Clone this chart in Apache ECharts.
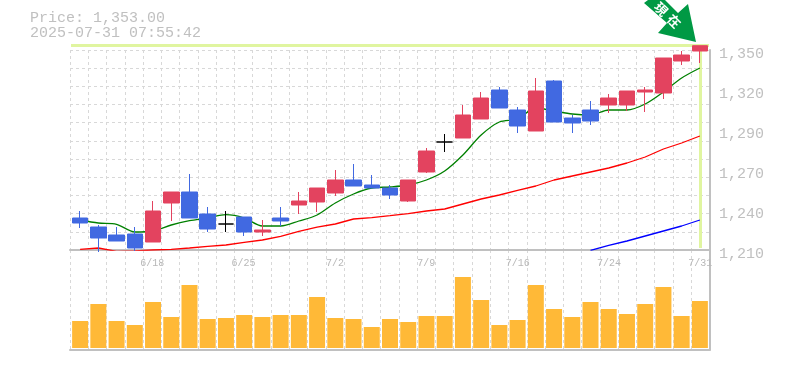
<!DOCTYPE html>
<html>
<head>
<meta charset="utf-8">
<style>
html, body { margin: 0; padding: 0; background: #fff; }
#chart { width: 785px; height: 370px; }
</style>
<script src="https://cdn.jsdelivr.net/npm/echarts@6/dist/echarts.min.js"></script>
</head>
<body>
<div id="chart"></div>
<script>
var dates = ['6/12','6/13','6/16','6/17','6/18','6/19','6/20','6/23','6/24','6/25','6/26','6/27','6/30','7/1','7/2','7/3','7/4','7/7','7/8','7/9','7/10','7/11','7/14','7/15','7/16','7/17','7/18','7/22','7/23','7/24','7/25','7/28','7/29','7/30','7/31'];

// open, close, low, high
var candles = [
    [1232.4,1228.9,1225.4,1237.3],[1226.1,1218.4,1208.6,1227.5],[1220.5,1216.3,1216.3,1226.1],[1221.2,1211.4,1209.3,1226.1],
    [1215.6,1237.3,1215.6,1244.3],[1242.9,1250.6,1230.3,1250.6],[1250.6,1232.4,1232.4,1263.2],[1235.2,1224.7,1222.6,1240.1],
    [1228.2,1228.2,1222.6,1237.3],[1233.1,1222.6,1219.8,1233.1],[1222.6,1224,1219.8,1231],[1232.4,1230.3,1226.8,1240.1],
    [1241.5,1244.3,1235.2,1250.6],[1243.6,1253.4,1236.6,1253.4],[1249.9,1259,1247.8,1266],[1259,1254.8,1254.8,1270.2],
    [1255.5,1253.4,1253.4,1262.5],[1253.4,1248.5,1245.7,1255.5],[1244.3,1259,1243.6,1259],[1264.6,1279.3,1263.9,1281.4],
    [1285.6,1285.6,1278.6,1291.2],[1288.4,1304.5,1288.4,1311.5],[1301.7,1316.4,1301.7,1320.6],[1322,1309.4,1309.4,1324.1],
    [1308,1296.8,1291.9,1310.1],[1293.3,1321.3,1293.3,1330.4],[1328.3,1299.6,1299.6,1329],[1302.4,1298.9,1291.9,1304.5],
    [1308,1300.3,1297.5,1314.3],[1311.5,1316.4,1305.9,1319.2],[1311.5,1321.3,1307.3,1321.3],[1320.6,1322,1306.6,1324.1],
    [1319.9,1344.4,1315.7,1344.4],[1342.3,1346.5,1339.5,1349.3],[1349.3,1353,1340.9,1353]
];

var maShort = [1231,1228.9,1228,1222.6,1223.3,1227.5,1230.5,1232.4,1234.7,1232.4,1226.8,1226.8,1230.3,1234.5,1242.9,1249.2,1253.4,1254.1,1255.5,1259,1265.3,1276.5,1290.5,1299.6,1301.7,1309.4,1307.3,1305.2,1304.5,1308,1308,1312.2,1320.6,1330.4,1337.4];
var maMid = [1210.5,1211.4,1209,1209.3,1210,1210.5,1211.4,1212.5,1213.5,1215.3,1217,1219.5,1223,1226,1228.2,1231.7,1232.7,1234,1235.5,1237.3,1238.7,1242.2,1245.7,1248.5,1251.7,1254.8,1259,1261.8,1264.6,1267.4,1270.9,1275.1,1280.7,1284.9,1289.8];
var maLong = [null,null,null,null,null,null,null,null,null,null,null,null,null,null,null,null,null,null,null,null,null,null,null,null,null,null,null,null,1209.7,1213.2,1216.3,1219.8,1223.3,1226.8,1231];

var volumes = [27,44,27,23,46,31,63,29,30,33,31,33,33,51,30,29,21,29,26,32,32,71,48,23,28,63,39,31,46,39,34,44,61,32,47];

var priceTicks = [1210,1238,1266,1294,1322,1350];
var priceLabels = ['1,210','1,240','1,270','1,290','1,320','1,350'];
var lastPrice = 1353;
var crossBottom = 1211.4;

var labelColor = '#c0c0c0';
var monoFont = '"Liberation Mono", monospace';
var dashed = { show: true, interval: 0, lineStyle: { color: '#d8d8d8', type: [3, 3], width: 1 } };
var frame = { show: true, onZero: false, lineStyle: { color: labelColor, width: 2 } };

var chart = echarts.init(document.getElementById('chart'));

var option = {
    animation: false,
    backgroundColor: '#fff',
    title: {
        text: 'Price: 1,353.00\n2025-07-31 07:55:42',
        left: 30,
        top: 11,
        padding: 0,
        textStyle: { color: labelColor, fontFamily: monoFont, fontSize: 15, fontWeight: 'normal', lineHeight: 15 }
    },
    grid: [
        { left: 70, width: 639.5, top: 50, height: 200 },   // dotted background, price pane
        { left: 70, width: 639.5, top: 250, height: 100 },  // dotted background, volume pane
        { left: 71, width: 638, top: 44, height: 206 },     // candles, a bit taller so the last one fits
        { left: 71, width: 638, top: 250, height: 100 }     // volume bars
    ],
    xAxis: [
        {
            type: 'category', gridIndex: 0, data: dates,
            axisLine: frame,
            axisTick: { show: false },
            splitLine: dashed,
            axisLabel: {
                color: '#b8b8b8', fontFamily: monoFont, fontSize: 10, margin: 8,
                interval: function (i) { return i % 5 === 4; }
            }
        },
        {
            type: 'category', gridIndex: 1, data: dates,
            axisLine: frame,
            axisTick: { show: false },
            axisLabel: { show: false },
            splitLine: dashed
        },
        { type: 'category', gridIndex: 2, data: dates, show: false },
        { type: 'category', gridIndex: 3, data: dates, show: false }
    ],
    yAxis: [
        {
            type: 'value', gridIndex: 0, position: 'right', min: 0, max: 11, interval: 1,
            axisLine: frame,
            axisTick: { show: false },
            axisLabel: { show: false },
            splitLine: dashed
        },
        {
            type: 'value', gridIndex: 1, position: 'right', min: 0, max: 1,
            axisLine: frame,
            axisTick: { show: false },
            axisLabel: { show: false },
            splitLine: { show: false }
        },
        {
            type: 'value', gridIndex: 2, position: 'right', min: 1210, max: 1354.2,
            axisLine: { show: false },
            axisTick: { show: false },
            splitLine: { show: false },
            axisLabel: {
                color: labelColor, fontFamily: monoFont, fontSize: 15, margin: 10,
                customValues: priceTicks,
                verticalAlign: 'top',
                lineHeight: 8,
                formatter: function (v) { return priceLabels[priceTicks.indexOf(v)]; }
            }
        },
        { type: 'value', gridIndex: 3, min: -2, max: 98, show: false }
    ],
    series: [
        {
            // last price cross hair
            type: 'line', xAxisIndex: 2, yAxisIndex: 2, data: [], z: 1,
            markLine: {
                z: 1, silent: true, symbol: 'none', label: { show: false },
                lineStyle: { color: '#e0f5a0', width: 3, type: 'solid' },
                data: [
                    { yAxis: lastPrice },
                    [{ xAxis: dates[dates.length - 1], yAxis: lastPrice }, { xAxis: dates[dates.length - 1], yAxis: crossBottom }]
                ]
            }
        },
        { type: 'line', xAxisIndex: 2, yAxisIndex: 2, data: maShort, z: 2, symbol: 'none', smooth: 0.3, lineStyle: { color: '#008000', width: 1.3 } },
        { type: 'line', xAxisIndex: 2, yAxisIndex: 2, data: maMid, z: 2, symbol: 'none', lineStyle: { color: '#ff0000', width: 1.3 } },
        { type: 'line', xAxisIndex: 2, yAxisIndex: 2, data: maLong, z: 2, symbol: 'none', lineStyle: { color: '#0000ff', width: 1.3 } },
        {
            type: 'candlestick', xAxisIndex: 2, yAxisIndex: 2, data: candles, z: 3, barWidth: 16,
            itemStyle: {
                color: '#e3435f', color0: '#4169e1',
                borderColor: '#e3435f', borderColor0: '#4169e1', borderColorDoji: '#000000',
                borderWidth: 1, borderJoin: 'miter'
            }
        },
        { type: 'bar', xAxisIndex: 3, yAxisIndex: 3, data: volumes, barWidth: 16, itemStyle: { color: '#ffb937' } }
    ],
    graphic: [
        {
            type: 'polygon', z: 10,
            shape: { points: [[644, 3], [648, 0], [665, 0], [678, 13], [688, 4], [696, 42], [658, 33], [667, 23]] },
            style: { fill: '#009944' }
        },
        {
            type: 'text', z: 11, x: 661, y: 9, rotation: -Math.PI / 4,
            style: { text: '現', fill: '#fff', fontSize: 13, fontWeight: 'bold', fontFamily: '"Noto Sans CJK JP"', align: 'center', verticalAlign: 'middle' }
        },
        {
            type: 'text', z: 11, x: 674, y: 21, rotation: -Math.PI / 4,
            style: { text: '在', fill: '#fff', fontSize: 13, fontWeight: 'bold', fontFamily: '"Noto Sans CJK JP"', align: 'center', verticalAlign: 'middle' }
        }
    ]
};

chart.setOption(option);
</script>
</body>
</html>
